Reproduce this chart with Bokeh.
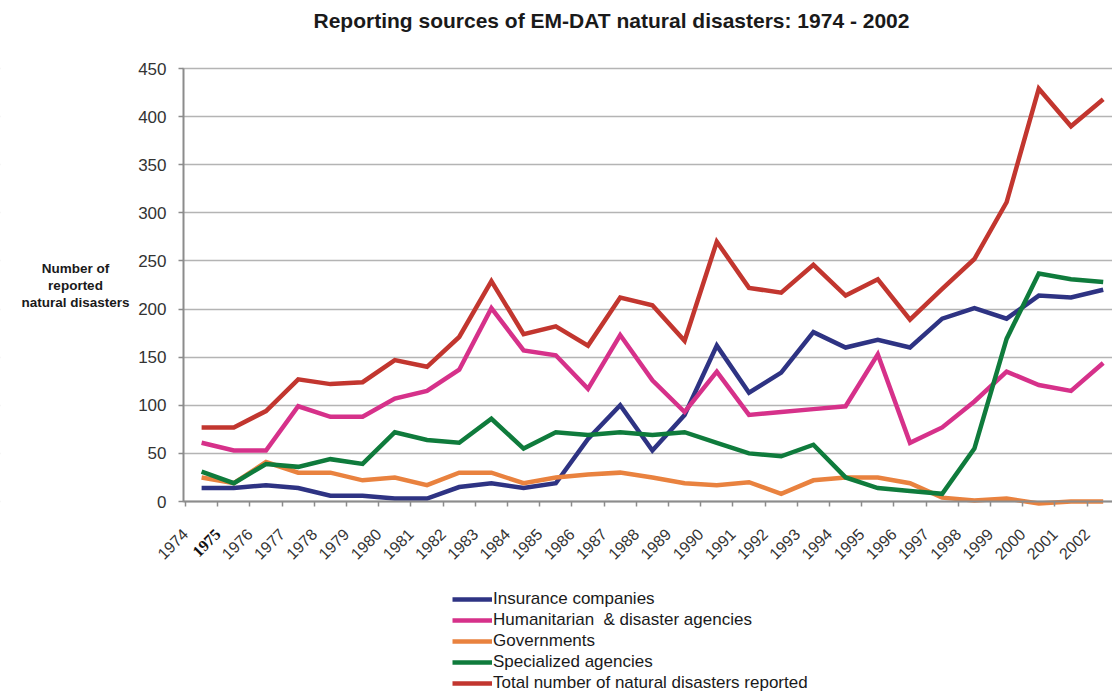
import math
from bokeh.plotting import figure
from bokeh.models import BoxAnnotation, FixedTicker, Label, Legend, LegendItem, Range1d
from bokeh.embed import file_html
from bokeh.resources import INLINE

# ---------------- data ----------------
years = list(range(1974, 2003))
insurance = [14, 14, 17, 14, 6, 6, 3, 3, 15, 19, 14, 19, 65, 100, 53, 90, 162, 113, 134,
             176, 160, 168, 160, 190, 201, 190, 214, 212, 220]
humanitarian = [61, 53, 53, 99, 88, 88, 107, 115, 137, 201, 157, 152, 117, 173, 126, 93, 135, 90, 93,
                96, 99, 153, 61, 77, 104, 135, 121, 115, 144]
governments = [25, 19, 41, 30, 30, 22, 25, 17, 30, 30, 19, 25, 28, 30, 25, 19, 17, 20, 8,
               22, 25, 25, 19, 4, 1, 3, -2, 0, 0]
specialized = [31, 19, 39, 36, 44, 39, 72, 64, 61, 86, 55, 72, 69, 72, 69, 72, 61, 50, 47,
               59, 25, 14, 11, 8, 55, 169, 237, 231, 228]
total = [77, 77, 94, 127, 122, 124, 147, 140, 171, 229, 174, 182, 162, 212, 204, 167, 270, 222, 217,
         246, 214, 231, 189, 221, 252, 311, 429, 390, 418]

series_names = ["Insurance companies", "Humanitarian  & disaster agencies", "Governments",
                "Specialized agencies", "Total number of natural disasters reported"]
series_values = [insurance, humanitarian, governments, specialized, total]
series_colors = ["#2E3383", "#D6318A", "#E9823F", "#0F7B3C", "#C2362F"]
y_ticks = list(range(0, 451, 50))

title_text = "Reporting sources of EM-DAT natural disasters: 1974 - 2002"
ylabel_lines = ["Number of", "reported", "natural disasters"]

# ---------------- layout (frame covers the whole canvas) ----------------
W, H = 1112, 691
AXIS_PX = 183                 # y axis position in pixels
PX_PER_Y = 433 / 450          # 0 at y=501px, 450 at y=68px
Y1 = 450 + 68 / PX_PER_Y
Y0 = -(H - 501) / PX_PER_Y
PX_PER_X = 32.2
X0 = 1974 - 185 / PX_PER_X
X1 = X0 + W / PX_PER_X
FONT = "Liberation Sans"
AXIS_GRAY = "#8c8c8c"
X_STANDOFF = 25


def px2x(px):
    return X0 + px / PX_PER_X


def px2y(py):
    return (501 - py) / PX_PER_Y


p = figure(width=W, height=H, output_backend="svg", toolbar_location=None,
           x_range=Range1d(X0, X1), y_range=Range1d(Y0, Y1),
           min_border_left=0, min_border_right=0, min_border_top=0, min_border_bottom=0)
p.outline_line_color = None
p.background_fill_color = "white"
p.border_fill_color = "white"

# x axis at zero
xa = p.xaxis[0]
xa.fixed_location = 0
xa.bounds = (px2x(AXIS_PX), X1)
xa.ticker = FixedTicker(ticks=years)
xa.major_label_orientation = math.pi / 4
xa.major_label_overrides = {1975: " "}
xa.major_label_text_font = FONT
xa.major_label_text_font_size = "16px"
xa.major_label_text_color = "#333333"
xa.major_label_standoff = X_STANDOFF
xa.minor_tick_line_color = None
xa.major_tick_in = 0
xa.major_tick_out = 5
xa.major_tick_line_color = AXIS_GRAY
xa.major_tick_line_width = 1.5
xa.axis_line_color = AXIS_GRAY
xa.axis_line_width = 2

# y axis at its pixel position
ya = p.yaxis[0]
ya.fixed_location = px2x(AXIS_PX)
ya.ticker = FixedTicker(ticks=y_ticks)
ya.bounds = (0, 450)
ya.major_label_text_font = FONT
ya.major_label_text_font_size = "17px"
ya.major_label_text_color = "#333333"
ya.major_label_standoff = 12
ya.minor_tick_line_color = None
ya.major_tick_in = 0
ya.major_tick_out = 5
ya.major_tick_line_color = AXIS_GRAY
ya.major_tick_line_width = 1.5
ya.axis_line_color = AXIS_GRAY
ya.axis_line_width = 2

p.xgrid.visible = False
p.ygrid.grid_line_color = "#b4b4b4"
p.ygrid.grid_line_width = 1.5
# keep gridlines to the right of the y axis
p.add_layout(BoxAnnotation(left=X0 - 5, right=px2x(AXIS_PX - 1), fill_color="white", fill_alpha=1,
                           line_color=None, level="underlay"))

# lines
xs = [y + 0.5 for y in years]
items = []
for name, vals, col in zip(series_names, series_values, series_colors):
    r = p.line(xs, vals, line_color=col, line_width=4.5, line_join="miter")
    items.append(LegendItem(label=name, renderers=[r]))

legend = Legend(items=items, location=(452, -2), orientation="vertical",
                glyph_width=40, glyph_height=20, label_height=20, spacing=1,
                padding=0, margin=0, label_standoff=1,
                border_line_color=None, background_fill_alpha=0,
                label_text_font=FONT, label_text_font_size="17px",
                label_text_color="#1a1a1a")
p.add_layout(legend)

# title
p.add_layout(Label(x=px2x(313), y=px2y(20), text=title_text, text_font=FONT,
                   text_font_size="21px", text_font_style="bold", text_color="#1a1a1a",
                   text_align="left", text_baseline="middle"))

# horizontal y axis title
for line_text, py in zip(ylabel_lines, [268, 285, 302]):
    p.add_layout(Label(x=px2x(75), y=px2y(py), text=line_text, text_font=FONT,
                       text_font_size="13.5px", text_font_style="bold", text_color="#1a1a1a",
                       text_align="center", text_baseline="middle"))

# bold serif tick label for 1975, as in the original
p.add_layout(Label(x=1975, y=px2y(501 + 5 + X_STANDOFF), text="1975", text_font="Liberation Serif",
                   text_font_size="16px", text_font_style="bold", text_color="#111111",
                   angle=math.pi / 4, text_align="right", text_baseline="middle"))

open("out.html", "w").write(file_html(p, INLINE))
